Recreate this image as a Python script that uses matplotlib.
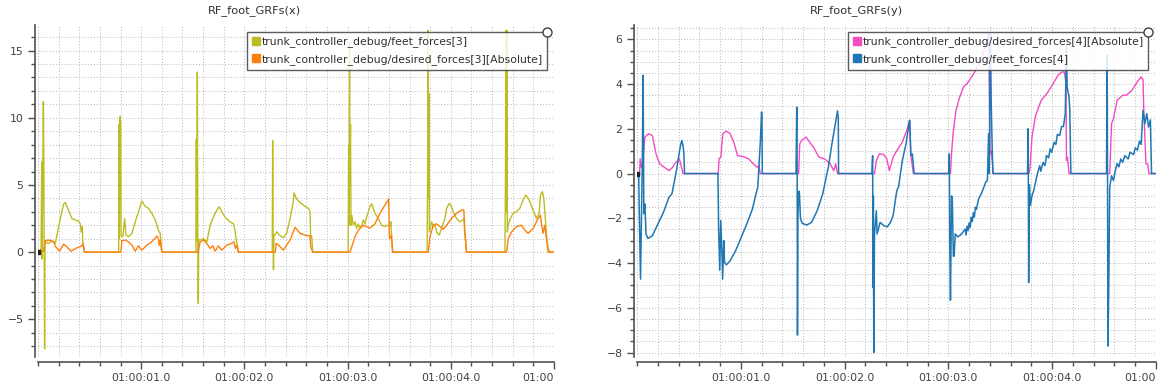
import matplotlib.pyplot as plt
from matplotlib.lines import Line2D
from matplotlib.ticker import MultipleLocator

# Data (time in s after 01:00:00.0, force)
x_feet = [  # trunk_controller_debug/feet_forces[3]
    (0.0, 0), (0.02, 0.1), (0.030, 0.3), (0.036, 6.7), (0.038, -0.5), (0.045, 4.7),
    (0.052, 11.2), (0.056, 7.2), (0.060, 0.8), (0.064, -7.2), (0.068, 0.5), (0.071, 0.77),
    (0.10, 0.65), (0.135, 0.82), (0.167, 0.65), (0.184, 1.27), (0.216, 2.5), (0.248, 3.56),
    (0.264, 3.7), (0.297, 3.1), (0.329, 2.5), (0.36, 2.4), (0.393, 2.31), (0.41, 2.1),
    (0.419, 1.5), (0.429, 1.9), (0.435, 0.5), (0.445, 0.4), (0.451, 0),
    (0.782, 0), (0.784, 9.5), (0.788, 1.0), (0.792, 9.6), (0.797, 10.1), (0.801, 9.4),
    (0.805, 1.2), (0.823, 1.15), (0.839, 2.5), (0.852, 1.27), (0.877, 1.15), (0.91, 1.4),
    (0.942, 2.26), (0.974, 3.0), (1.006, 3.8), (1.039, 3.4), (1.071, 3.26), (1.103, 2.9),
    (1.136, 2.4), (1.168, 1.6), (1.184, 1.4), (1.19, 0.9), (1.20, 0),
    (1.530, 0), (1.534, 8.4), (1.538, 0.8), (1.544, 13.4), (1.549, 0.6), (1.553, -3.8),
    (1.557, 0.9), (1.571, 0.9), (1.603, 1.0), (1.636, 0.77), (1.668, 2.0), (1.716, 2.9),
    (1.755, 3.38), (1.781, 3.0), (1.813, 2.6), (1.861, 2.26), (1.894, 2.1), (1.91, 1.6),
    (1.92, 0.9), (1.93, 0.6), (1.942, 0),
    (2.270, 0), (2.274, 8.3), (2.278, 0.5), (2.282, -1.3), (2.286, 1.3), (2.297, 1.27),
    (2.313, 1.52), (2.339, 1.27), (2.378, 1.07), (2.41, 1.4), (2.442, 2.5), (2.474, 3.75),
    (2.481, 4.4), (2.507, 3.95), (2.539, 3.7), (2.588, 3.4), (2.62, 3.26), (2.636, 3.0),
    (2.642, 1.15), (2.652, 1.2), (2.662, 0),
    (3.005, 0), (3.010, 8.0), (3.014, 2.0), (3.019, 15.6), (3.023, 5.0), (3.028, 9.5),
    (3.033, 2.0), (3.04, 2.76), (3.055, 2.0), (3.072, 2.26), (3.087, 1.77), (3.104, 2.1),
    (3.12, 1.77), (3.136, 2.0), (3.152, 2.4), (3.168, 2.1), (3.184, 2.6), (3.2, 3.0),
    (3.217, 3.4), (3.233, 3.6), (3.249, 3.26), (3.265, 2.9), (3.297, 2.5), (3.33, 2.0),
    (3.362, 1.9), (3.378, 2.0), (3.41, 1.95), (3.42, 2.26), (3.426, 1.0), (3.436, 0),
    (3.770, 0), (3.775, 5.0), (3.780, 16.5), (3.784, 4.0), (3.788, 11.8), (3.792, 1.5),
    (3.814, 2.26), (3.83, 1.9), (3.846, 2.1), (3.862, 1.5), (3.888, 1.27), (3.91, 1.77),
    (3.943, 2.5), (3.959, 3.26), (3.985, 3.63), (4.007, 3.4), (4.023, 3.0), (4.056, 2.5),
    (4.088, 2.26), (4.12, 2.4), (4.13, 2.5), (4.139, 1.27), (4.152, 0),
    (4.525, 0), (4.530, 6.0), (4.535, 16.5), (4.540, 3.0), (4.544, 16.5), (4.548, 1.5),
    (4.557, 2.1), (4.572, 2.4), (4.588, 2.65), (4.604, 2.9), (4.636, 3.0), (4.669, 3.26),
    (4.701, 3.9), (4.727, 4.25), (4.749, 4.0), (4.765, 3.75), (4.798, 3.13), (4.83, 2.5),
    (4.856, 2.9), (4.869, 4.25), (4.888, 4.5), (4.901, 4.0), (4.914, 2.76), (4.927, 1.27),
    (4.943, 0.27), (4.959, 0), (5.0, 0),
]

x_desired = [  # trunk_controller_debug/desired_forces[3][Absolute]
    (0.0, 0), (0.02, 0), (0.055, 0.1), (0.071, 0.85), (0.103, 0.9), (0.151, 0.8),
    (0.167, 0.45), (0.209, 0.07), (0.248, 0.6), (0.28, 0.4), (0.319, 0.07), (0.377, 0.32),
    (0.426, 0.47), (0.435, 0.65), (0.442, 0.4), (0.451, 0),
    (0.803, 0), (0.813, 0.85), (0.845, 0.9), (0.877, 0.77), (0.91, 0.52), (0.942, 0.07),
    (0.974, 0.47), (1.006, 0.15), (1.055, 0.52), (1.103, 0.77), (1.152, 1.2), (1.168, 1.0),
    (1.174, 0.5), (1.184, 0.9), (1.20, 0),
    (1.55, 0), (1.571, 0.77), (1.603, 0.9), (1.636, 0.65), (1.668, 0.27), (1.694, 0.47),
    (1.716, 0.07), (1.748, 0.47), (1.781, 0.15), (1.829, 0.52), (1.878, 0.65), (1.90, 0.77),
    (1.913, 0.27), (1.926, 0.52), (1.942, 0),
    (2.30, 0), (2.307, 0.65), (2.33, 0.52), (2.378, 0.15), (2.41, 0.52), (2.442, 0.9),
    (2.491, 1.85), (2.539, 1.4), (2.588, 1.27), (2.636, 1.2), (2.642, 0.4), (2.662, 0),
    (3.023, 0), (3.04, 0.4), (3.072, 1.15), (3.104, 1.64), (3.152, 2.0), (3.217, 1.8),
    (3.265, 2.1), (3.314, 2.9), (3.362, 3.5), (3.398, 3.96), (3.404, 1.27), (3.41, 1.0),
    (3.426, 1.27), (3.436, 0),
    (3.782, 0), (3.798, 1.15), (3.83, 2.0), (3.862, 2.1), (3.895, 1.9), (3.927, 1.7),
    (3.959, 2.0), (4.007, 2.5), (4.056, 2.9), (4.104, 3.13), (4.127, 3.13), (4.133, 1.52),
    (4.139, 1.27), (4.152, 0),
    (4.54, 0), (4.557, 1.0), (4.588, 1.5), (4.636, 1.9), (4.685, 2.0), (4.717, 1.64),
    (4.749, 1.4), (4.798, 1.77), (4.846, 2.5), (4.869, 2.76), (4.878, 2.15), (4.894, 1.4),
    (4.91, 2.0), (4.927, 1.0), (4.943, 0), (5.0, 0),
]

y_desired = [  # trunk_controller_debug/desired_forces[4][Absolute]
    (0.0, 0), (0.025, 0), (0.03, 0.66), (0.041, 0.28), (0.059, 0.58), (0.076, 1.63),
    (0.112, 1.78), (0.148, 1.7), (0.183, 0.88), (0.219, 0.43), (0.255, 0.31), (0.308, 0.13),
    (0.344, 0.28), (0.362, 0.43), (0.408, 0.66), (0.433, 0.2), (0.444, 0),
    (0.783, 0), (0.79, 0.66), (0.808, 0.73), (0.826, 1.78), (0.861, 1.9), (0.897, 1.78),
    (0.933, 1.4), (0.968, 0.8), (1.022, 0.76), (1.075, 0.66), (1.122, 0.43), (1.157, 0.28),
    (1.175, 0.36), (1.186, 0),
    (1.557, 0), (1.568, 1.33), (1.586, 1.48), (1.628, 1.63), (1.664, 1.4), (1.70, 1.18),
    (1.753, 0.73), (1.807, 0.66), (1.861, 0.43), (1.896, 0.13), (1.914, 0.43), (1.932, 0),
    (2.288, 0), (2.306, 0.58), (2.335, 0.88), (2.377, 0.85), (2.406, 0.66), (2.431, 0.13),
    (2.467, 0.73), (2.503, 1.03), (2.556, 1.4), (2.599, 1.93), (2.627, 2.38), (2.638, 0.8),
    (2.663, 0),
    (3.02, 0), (3.03, 0.88), (3.045, 1.78), (3.073, 2.83), (3.109, 3.42), (3.145, 3.87),
    (3.18, 4.02), (3.234, 4.39), (3.27, 4.69), (3.323, 5.22), (3.359, 5.74), (3.387, 6.26),
    (3.401, 0.88), (3.412, 1.03), (3.423, 0.58), (3.43, 0),
    (3.776, 0), (3.787, 0.28), (3.805, 1.63), (3.84, 2.6), (3.894, 3.27), (3.948, 3.57),
    (4.001, 3.95), (4.055, 4.39), (4.091, 4.54), (4.118, 4.54), (4.133, 4.0), (4.137, 0.58),
    (4.148, 0.73), (4.162, 0),
    (4.554, 0), (4.572, 2.23), (4.59, 2.45), (4.626, 3.27), (4.679, 3.5), (4.715, 3.5),
    (4.768, 3.72), (4.821, 4.1), (4.857, 4.32), (4.875, 4.2), (4.882, 2.9), (4.903, 0.43),
    (4.921, 0.43), (4.932, 0), (5.0, 0),
]

y_feet = [  # trunk_controller_debug/feet_forces[4]
    (0.0, 0), (0.016, 0), (0.023, -2.03), (0.034, -4.72), (0.044, -1.5), (0.051, 0.5),
    (0.059, 4.39), (0.066, -1.8), (0.076, -1.36), (0.087, -2.7), (0.105, -2.9),
    (0.148, -2.78), (0.201, -2.26), (0.255, -1.73), (0.308, -1.06), (0.337, -0.9),
    (0.38, 0.13), (0.408, 0.96), (0.422, 1.33), (0.433, 1.48), (0.444, 1.2), (0.451, 0.96),
    (0.458, 0),
    (0.78, 0), (0.786, -2.4), (0.797, -4.32), (0.807, -2.1), (0.818, -3.5), (0.825, -4.72),
    (0.836, -3.0), (0.843, -3.97), (0.861, -4.08), (0.897, -3.9), (0.95, -3.45),
    (1.004, -2.85), (1.057, -2.26), (1.111, -1.6), (1.147, -0.9), (1.164, -0.6),
    (1.189, 1.5), (1.20, 2.75), (1.204, 2.5), (1.207, 0),
    (1.532, 0), (1.539, 2.97), (1.543, 0), (1.546, -7.22), (1.55, -2.03), (1.557, -0.8),
    (1.564, -0.8), (1.575, -2.03), (1.593, -2.23), (1.636, -2.3), (1.682, -2.18),
    (1.736, -1.66), (1.789, -0.91), (1.843, 0.28), (1.878, 1.33), (1.914, 2.3), (1.932, 2.8),
    (1.939, 2.5), (1.942, 0),
    (2.263, 0), (2.27, 0.8), (2.274, -5.1), (2.277, -1.0), (2.281, -8.0), (2.288, -2.7),
    (2.306, -1.66), (2.313, -2.7), (2.342, -2.18), (2.377, -2.33), (2.413, -2.38),
    (2.442, -2.18), (2.467, -1.88), (2.503, -0.76), (2.52, -0.6), (2.556, 0.58),
    (2.592, 1.33), (2.62, 2.23), (2.627, 2.38), (2.638, 0.8), (2.652, 0.88), (2.67, 0),
    (3.002, 0), (3.009, 0.88), (3.013, -3.0), (3.02, -5.66), (3.03, -1.0), (3.037, -1.06),
    (3.048, -3.7), (3.055, -3.68), (3.066, -2.7), (3.091, -2.83), (3.127, -2.7),
    (3.162, -2.48), (3.17, -2.75), (3.18, -2.35), (3.19, -2.55), (3.20, -2.2), (3.21, -2.4),
    (3.22, -1.95), (3.23, -2.15), (3.24, -1.75), (3.25, -1.95), (3.26, -1.5), (3.27, -1.6),
    (3.29, -1.15), (3.323, -0.84), (3.359, -0.39), (3.376, -0.31), (3.387, 1.78),
    (3.394, 0.0), (3.401, 5.07), (3.405, 6.26), (3.412, 3.27), (3.423, 0.88), (3.43, 0),
    (3.762, 0), (3.769, 2.0), (3.773, -4.87), (3.78, -0.5), (3.79, -1.43), (3.805, -1.0),
    (3.822, -0.76), (3.858, 0.0), (3.88, 0.35), (3.89, 0.1), (3.912, 0.5), (3.93, 0.35),
    (3.945, 0.8), (3.966, 0.7), (3.98, 1.1), (3.995, 0.95), (4.019, 1.4), (4.035, 1.3),
    (4.05, 1.75), (4.072, 1.7), (4.09, 2.1), (4.108, 2.1), (4.126, 2.68), (4.137, 5.67),
    (4.144, 3.87), (4.162, 3.42), (4.169, 2.9), (4.18, 0),
    (4.523, 0), (4.53, 5.29), (4.533, -0.5), (4.537, -7.71), (4.544, -5.5), (4.554, -0.6),
    (4.572, -0.1), (4.59, -0.31), (4.607, 0.1), (4.625, 0.45), (4.643, 0.3), (4.66, 0.65),
    (4.679, 0.5), (4.70, 0.8), (4.732, 0.65), (4.75, 0.95), (4.785, 0.85), (4.80, 1.15),
    (4.821, 1.05), (4.84, 1.45), (4.857, 1.3), (4.875, 2.83), (4.893, 2.23), (4.911, 2.68),
    (4.928, 2.08), (4.946, 2.4), (4.957, 0), (5.0, 0),
]

x_ticks = [1, 2, 3, 4, 5]
x_ticklabels = ["01:00:01.0", "01:00:02.0", "01:00:03.0", "01:00:04.0", "01:00"]

W, H = 1160, 390
fig = plt.figure(figsize=(W / 100, H / 100), dpi=100)
plt.rcParams['font.family'] = 'DejaVu Sans'

AX_COLOR = '#505050'


def add_axes_px(x0, y0, x1, y1):
    return fig.add_axes([x0 / W, 1 - y1 / H, (x1 - x0) / W, (y1 - y0) / H])


def style(ax, ylim, ymajor, yminor):
    ax.set_xlim(0, 5)
    ax.set_ylim(*ylim)
    ax.spines['top'].set_visible(False)
    ax.spines['right'].set_visible(False)
    ax.spines['left'].set_position(('outward', 2.5))
    ax.spines['bottom'].set_position(('outward', 3.8))
    for s in ['left', 'bottom']:
        ax.spines[s].set_color(AX_COLOR)
        ax.spines[s].set_linewidth(1.2)
    ax.xaxis.set_minor_locator(MultipleLocator(0.2))
    ax.yaxis.set_major_locator(MultipleLocator(ymajor))
    ax.yaxis.set_minor_locator(MultipleLocator(yminor))
    ax.set_xticks(x_ticks, x_ticklabels)
    ax.get_xticklabels()[-1].set_horizontalalignment('right')
    ax.tick_params(which='major', length=5, width=1, color=AX_COLOR,
                   labelsize=7.8, labelcolor='#404040', pad=3)
    ax.tick_params(which='minor', length=3, width=1, color=AX_COLOR)
    ax.grid(True, which='both', color='#b8b8b8', linestyle=(0, (1, 2)), linewidth=0.7)
    ax.set_axisbelow(True)


def add_legend(ax, handles, labels, right_px):
    leg = ax.legend(handles, labels, loc='upper right',
                    bbox_to_anchor=(right_px / W, 1 - 32 / H),
                    bbox_transform=fig.transFigure, fontsize=7.8,
                    fancybox=False, edgecolor='#404040', framealpha=0.85,
                    borderpad=0.4, handletextpad=0.05, handlelength=0.9,
                    labelspacing=0.65, borderaxespad=0)
    leg.get_frame().set_linewidth(1.0)
    for t in leg.get_texts():
        t.set_color('#303030')
    fig.add_artist(Line2D([right_px / W], [1 - 32 / H], transform=fig.transFigure,
                          marker='o', markersize=6.5, markerfacecolor='white',
                          markeredgecolor='#404040', markeredgewidth=1))


def square(c):
    return Line2D([], [], marker='s', color=c, linestyle='none', markersize=6)


OLIVE, ORANGE = '#bcbd22', '#ff7f0e'
PINK, BLUE = '#f14cc1', '#1f77b4'

# Left plot: RF_foot_GRFs(x)
ax1 = add_axes_px(38, 25, 554, 357)
style(ax1, (-7.8, 16.9), 5, 1)
ax1.plot(*zip(*x_feet), color=OLIVE, lw=1.0)
ax1.plot(*zip(*x_desired), color=ORANGE, lw=1.0)
ax1.plot(*x_desired[0], marker='s', color='#202020', markersize=3)
add_legend(ax1, [square(OLIVE), square(ORANGE)],
           ["trunk_controller_debug/feet_forces[3]",
            "trunk_controller_debug/desired_forces[3][Absolute]"], 547)
fig.text(254 / W, 1 - 11 / H, "RF_foot_GRFs(x)", ha='center', va='center',
         fontsize=8.2, color='#303030')

# Right plot: RF_foot_GRFs(y)
ax2 = add_axes_px(637, 25, 1156, 357)
style(ax2, (-8.2, 6.64), 2, 0.5)
ax2.plot(*zip(*y_desired), color=PINK, lw=1.0)
ax2.plot(*zip(*y_feet), color=BLUE, lw=1.1)
ax2.plot(*y_feet[0], marker='s', color='#202020', markersize=3)
add_legend(ax2, [square(PINK), square(BLUE)],
           ["trunk_controller_debug/desired_forces[4][Absolute]",
            "trunk_controller_debug/feet_forces[4]"], 1148)
fig.text(856 / W, 1 - 11 / H, "RF_foot_GRFs(y)", ha='center', va='center',
         fontsize=8.2, color='#303030')

fig.savefig("out.png", dpi=100)
